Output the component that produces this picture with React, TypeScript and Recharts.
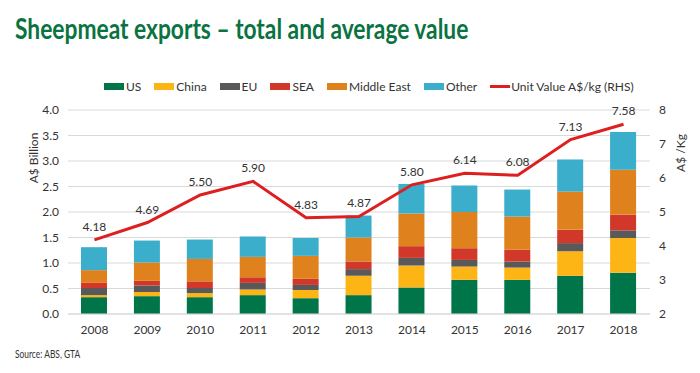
import { ComposedChart, Bar, Line, XAxis, YAxis, CartesianGrid, LabelList } from "recharts";

const years = ["2008", "2009", "2010", "2011", "2012", "2013", "2014", "2015", "2016", "2017", "2018"];
const us = [0.33, 0.35, 0.33, 0.37, 0.31, 0.37, 0.52, 0.67, 0.67, 0.75, 0.81];
const china = [0.04, 0.08, 0.08, 0.11, 0.16, 0.38, 0.43, 0.26, 0.24, 0.48, 0.68];
const eu = [0.14, 0.13, 0.1, 0.13, 0.1, 0.13, 0.15, 0.13, 0.12, 0.16, 0.15];
const sea = [0.1, 0.09, 0.13, 0.11, 0.12, 0.15, 0.23, 0.23, 0.23, 0.26, 0.31];
const middleEast = [0.25, 0.36, 0.44, 0.4, 0.45, 0.47, 0.64, 0.71, 0.65, 0.75, 0.88];
const other = [0.45, 0.43, 0.38, 0.4, 0.35, 0.43, 0.58, 0.52, 0.53, 0.63, 0.74];
const unitValue = [4.18, 4.69, 5.5, 5.9, 4.83, 4.87, 5.8, 6.14, 6.08, 7.13, 7.58];

const leftTicks = [0, 0.5, 1, 1.5, 2, 2.5, 3, 3.5, 4];
const rightTicks = [2, 3, 4, 5, 6, 7, 8];

const series = [
  { key: "us", name: "US", color: "#00754A" },
  { key: "china", name: "China", color: "#FDB515" },
  { key: "eu", name: "EU", color: "#595959" },
  { key: "sea", name: "SEA", color: "#D2382A" },
  { key: "middleEast", name: "Middle East", color: "#DF821E" },
  { key: "other", name: "Other", color: "#3AAECB" },
];
const lineColor = "#DD1F1F";

const data = years.map((year, i) => ({
  year,
  us: us[i],
  china: china[i],
  eu: eu[i],
  sea: sea[i],
  middleEast: middleEast[i],
  other: other[i],
  unitValue: unitValue[i],
}));

const font = "Lato, 'Open Sans', sans-serif";
const tickStyle = { fontSize: 12, fill: "#333", fontFamily: font };

export default function App() {
  return (
    <div style={{ position: "absolute", left: 0, top: 0, width: 700, height: 373, background: "#fff", fontFamily: font }}>
      {/* title is set narrower to match the condensed face of the original */}
      <div style={{ position: "absolute", left: 15, top: 10, fontSize: 29, fontWeight: 700, color: "#0A7341", whiteSpace: "nowrap", transform: "scaleX(0.785)", transformOrigin: "left center" }}>
        Sheepmeat exports – total and average value
      </div>

      {/* legend */}
      <div style={{ position: "absolute", left: 104, top: 79, display: "flex", alignItems: "center", fontSize: 12, color: "#333", whiteSpace: "nowrap" }}>
        {series.map((s) => (
          <div key={s.key} style={{ display: "flex", alignItems: "center", marginRight: 13 }}>
            <span style={{ display: "inline-block", width: 20, height: 7, background: s.color, marginRight: 2 }} />
            {s.name}
          </div>
        ))}
        <div style={{ display: "flex", alignItems: "center" }}>
          <span style={{ display: "inline-block", width: 20, height: 3, background: lineColor, marginRight: 1 }} />
          Unit Value A$/kg (RHS)
        </div>
      </div>

      <div style={{ position: "absolute", left: 33, top: 158, transform: "translate(-50%, -50%) rotate(-90deg)", fontSize: 12, color: "#333", whiteSpace: "nowrap" }}>
        A$ Billion
      </div>
      <div style={{ position: "absolute", left: 680, top: 153, transform: "translate(-50%, -50%) rotate(-90deg)", fontSize: 12, color: "#333", whiteSpace: "nowrap" }}>
        A$ /Kg
      </div>

      <ComposedChart width={700} height={373} data={data} margin={{ top: 110, right: 0, bottom: 29, left: 0 }} style={{ position: "absolute", left: 0, top: 0 }}>
        <CartesianGrid yAxisId="left" vertical={false} stroke="#D9D9D9" />
        <XAxis dataKey="year" tickLine={false} axisLine={{ stroke: "#D9D9D9" }} tick={tickStyle} tickMargin={5} height={30} />
        <YAxis yAxisId="left" width={68} domain={[0, 4]} ticks={leftTicks} tickFormatter={(v: number) => v.toFixed(1)} tickLine={false} axisLine={false} tick={tickStyle} tickMargin={3} />
        <YAxis yAxisId="right" orientation="right" width={50} domain={[2, 8]} ticks={rightTicks} tickLine={false} axisLine={false} tick={tickStyle} tickMargin={3} />
        {series.map((s) => (
          <Bar key={s.key} yAxisId="left" dataKey={s.key} name={s.name} stackId="a" fill={s.color} barSize={26} isAnimationActive={false} />
        ))}
        <Line yAxisId="right" type="linear" dataKey="unitValue" name="Unit Value A$/kg (RHS)" stroke={lineColor} strokeWidth={3} dot={false} isAnimationActive={false}>
          <LabelList dataKey="unitValue" position="top" offset={9} formatter={(v: number) => v.toFixed(2)} style={{ fontSize: 12, fill: "#333", fontFamily: font }} />
        </Line>
      </ComposedChart>

      <div style={{ position: "absolute", left: 15, top: 348, fontSize: 10.5, color: "#333", whiteSpace: "nowrap", transform: "scaleX(0.8)", transformOrigin: "left center" }}>
        Source: ABS, GTA
      </div>
    </div>
  );
}
